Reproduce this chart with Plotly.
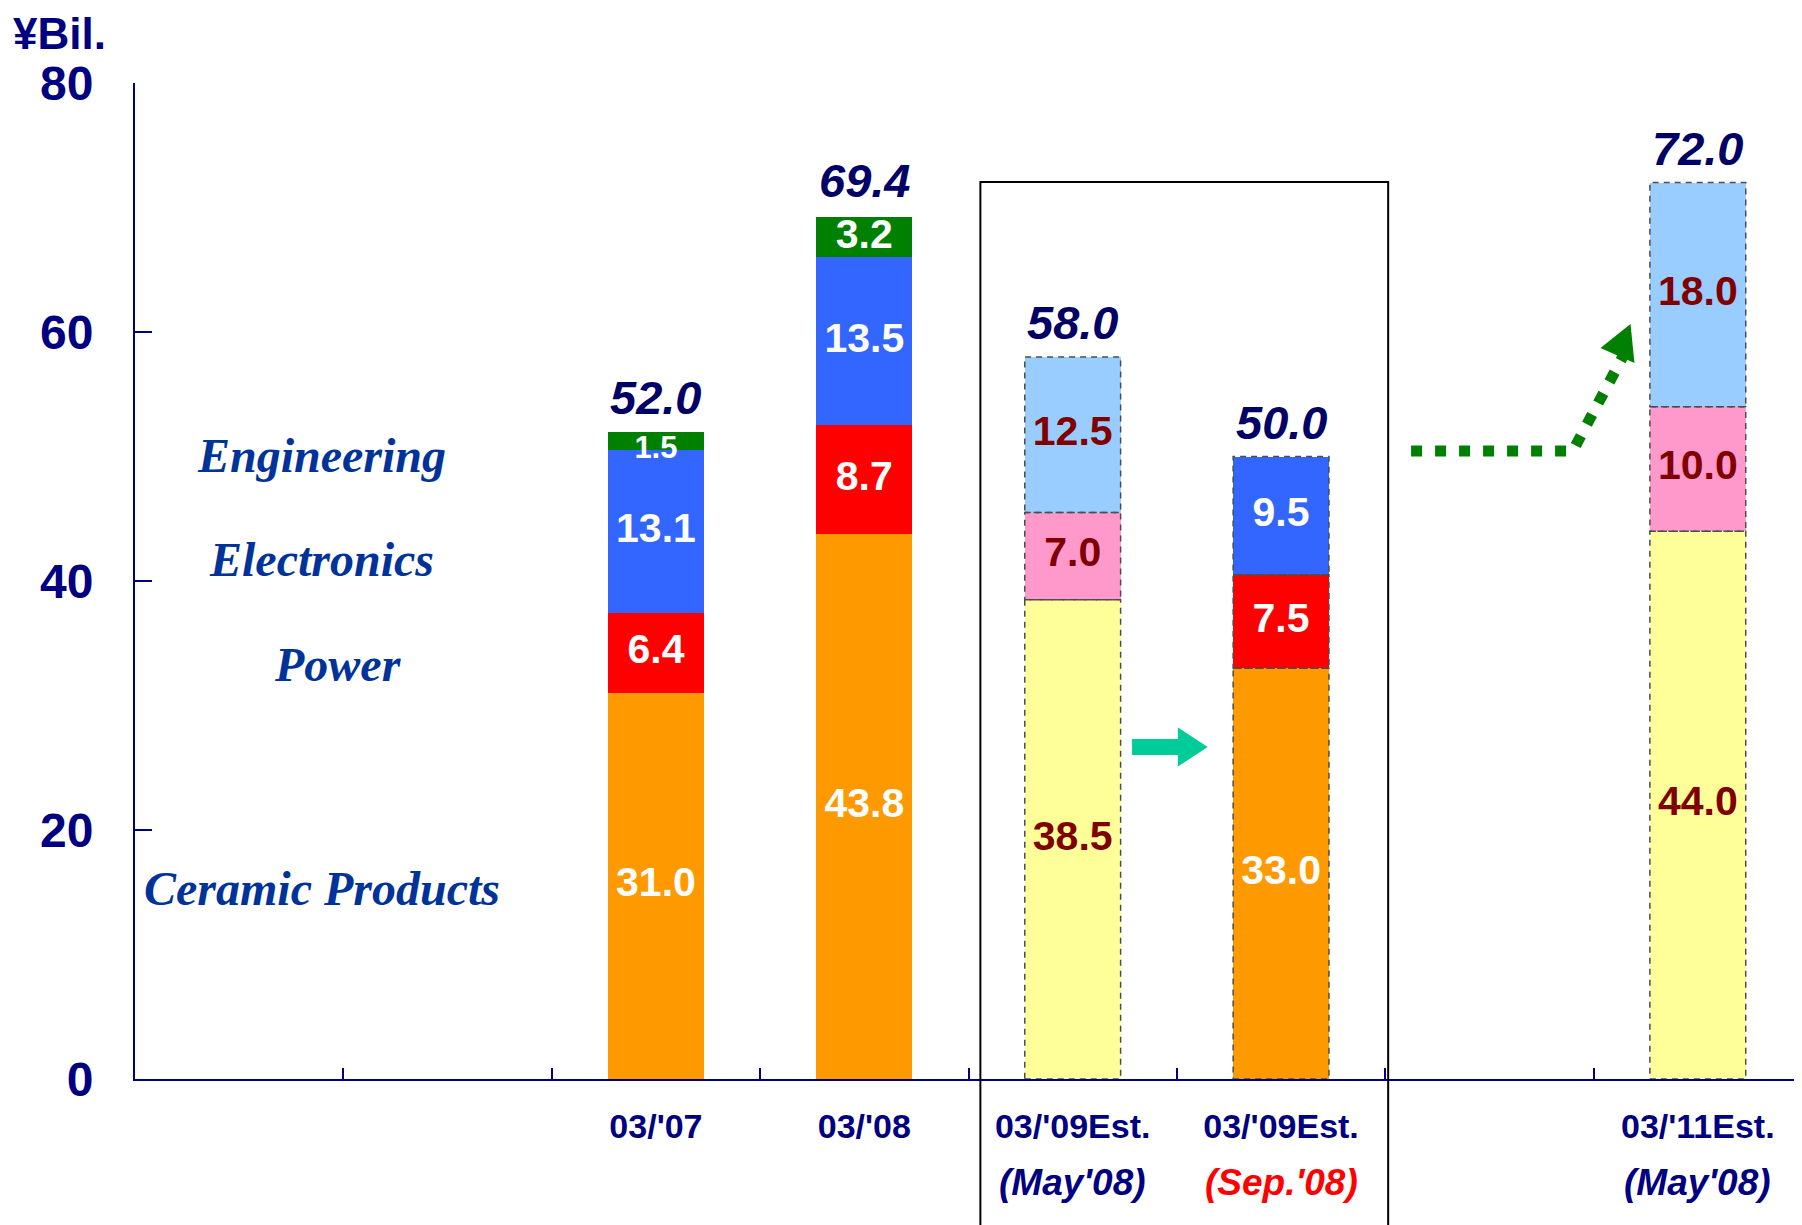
import plotly.graph_objects as go

# categories on the x axis (empty slots keep the original spacing)
cat_keys = ["e0", "e1", "FY07", "FY08", "FY09May", "FY09Sep", "e2", "FY11"]
tick_labels = ["", "", "03/'07", "03/'08", "03/'09Est.", "03/'09Est.", "", "03/'11Est."]

bar_keys = ["FY07", "FY08", "FY09May", "FY09Sep", "FY11"]
est_dates = {"FY09May": "(May'08)", "FY09Sep": "(Sep.'08)", "FY11": "(May'08)"}
est_date_colors = {"FY09May": "#000080", "FY09Sep": "#FF0000", "FY11": "#000080"}

ceramic = [31.0, 43.8, 38.5, 33.0, 44.0]
power = [6.4, 8.7, 7.0, 7.5, 10.0]
electronics = [13.1, 13.5, 12.5, 9.5, 18.0]
engineering = [1.5, 3.2, None, None, None]
totals = [52.0, 69.4, 58.0, 50.0, 72.0]

pale = [False, False, True, False, True]
estimate = [False, False, True, True, True]
segment_names = ["Engineering", "Electronics", "Power", "Ceramic Products"]

NAVY = "#000080"
solid_colors = {"ceramic": "#FF9900", "power": "#FF0000", "electronics": "#3366FF", "engineering": "#008000"}
pale_colors = {"ceramic": "#FFFF99", "power": "#FF99CC", "electronics": "#99CCFF", "engineering": "#99CC99"}

segments = [("ceramic", ceramic), ("power", power), ("electronics", electronics), ("engineering", engineering)]
BAR_W = 0.46

fig = go.Figure()

base = [0.0] * len(bar_keys)
shapes = []
for name, vals in segments:
    colors = [pale_colors[name] if p else solid_colors[name] for p in pale]
    fig.add_trace(go.Bar(
        x=bar_keys, y=vals, width=BAR_W,
        marker=dict(color=colors, line=dict(width=0)),
        showlegend=False, hoverinfo="skip",
    ))
    mids, txt, tcol, tsize, xs = [], [], [], [], []
    for i, v in enumerate(vals):
        if v is None:
            continue
        # thin segments: smaller label hanging from the segment's lower edge
        if v < 2:
            mids.append(base[i])
            tsize.append(31)
        else:
            mids.append(base[i] + v / 2)
            tsize.append(41)
        txt.append(f"{v:.1f}")
        tcol.append("#800000" if pale[i] else "white")
        xs.append(bar_keys[i])
        if estimate[i]:
            idx = cat_keys.index(bar_keys[i])
            shapes.append(dict(
                type="rect", xref="x", yref="y",
                x0=idx - BAR_W / 2, x1=idx + BAR_W / 2, y0=base[i], y1=base[i] + v,
                line=dict(color="#4D4D4D", width=1.5, dash="6px,5px"),
                fillcolor="rgba(0,0,0,0)", layer="above",
            ))
        base[i] += v
    fig.add_trace(go.Scatter(
        x=xs, y=mids, mode="text", text=txt,
        textfont=dict(family="Liberation Sans, Arial", size=tsize, color=tcol, weight="bold"),
        showlegend=False, hoverinfo="skip",
    ))

# box around the 03/'09 estimates
shapes.append(dict(type="rect", xref="x", yref="paper", x0=3.557, x1=5.514, y0=-0.4, y1=0.9006,
                   line=dict(color="black", width=2), fillcolor="rgba(0,0,0,0)", layer="above"))

# teal block arrow
shapes.append(dict(type="path", xref="x", yref="y",
                   path="M 4.285,27.31 L 4.505,27.31 L 4.505,28.23 L 4.648,26.67 L 4.505,25.10 L 4.505,26.02 L 4.285,26.02 Z",
                   fillcolor="#00CC99", line=dict(width=0), layer="above"))

# green dotted arrow
shapes.append(dict(type="path", xref="x", yref="y",
                   path="M 5.624,50.44 L 6.40,50.44 L 6.639,57.99",
                   line=dict(color="#008000", width=11, dash="11px,13px"), layer="above"))
shapes.append(dict(type="path", xref="x", yref="y",
                   path="M 6.677,60.64 L 6.533,58.71 L 6.696,57.51 Z",
                   fillcolor="#008000", line=dict(width=0), layer="above"))

annotations = []
# totals above the bars
for k, t in zip(bar_keys, totals):
    annotations.append(dict(x=k, y=t, xref="x", yref="y", text=f"{t:.1f}", showarrow=False,
                            yanchor="bottom", yshift=6,
                            font=dict(family="Liberation Sans, Arial", size=47, color="#000066",
                                      weight="bold", style="italic")))

# segment names on the left
name_pos = [(0.395, 50.1), (0.395, 41.7), (0.476, 33.3), (0.395, 15.3)]
for nm, (px, py) in zip(segment_names, name_pos):
    annotations.append(dict(x=px, y=py, xref="x", yref="y", text=nm, showarrow=False,
                            font=dict(family="Liberation Serif, Times New Roman", size=48, color="#003399",
                                      weight="bold", style="italic")))

# second line of the category labels
for k, d in est_dates.items():
    annotations.append(dict(x=cat_keys.index(k), y=-0.104, xref="x", yref="paper", text=d, showarrow=False,
                            yanchor="middle",
                            font=dict(family="Liberation Sans Narrow, Arial Narrow, Liberation Sans", size=37,
                                      color=est_date_colors[k], weight="bold", style="italic")))

annotations.append(dict(x=-0.074, y=1.0753, xref="paper", yref="paper", text="¥Bil.", showarrow=False,
                        xanchor="left", yanchor="top", borderpad=0,
                        font=dict(family="Liberation Sans, Arial", size=44, color=NAVY, weight="bold")))

fig.update_layout(
    width=1794, height=1217,
    barmode="stack",
    plot_bgcolor="white", paper_bgcolor="white",
    margin=dict(l=127, r=0, t=75, b=146),
    shapes=shapes, annotations=annotations,
    xaxis=dict(
        type="category", categoryorder="array", categoryarray=cat_keys,
        tickmode="array", tickvals=cat_keys, ticktext=tick_labels,
        tickson="boundaries", ticks="inside", ticklen=11, tickwidth=2, tickcolor=NAVY,
        showline=True, linecolor=NAVY, linewidth=2, showgrid=False, zeroline=False,
        range=[-0.5, 7.5], ticklabelstandoff=16,
        tickfont=dict(family="Liberation Sans Narrow, Arial Narrow, Liberation Sans", size=34,
                      color=NAVY, weight="bold"),
    ),
    yaxis=dict(
        range=[0, 80], tickvals=[0, 20, 40, 60, 80],
        ticks="inside", ticklen=17, tickwidth=2, tickcolor=NAVY,
        showline=True, linecolor=NAVY, linewidth=2, showgrid=False, zeroline=False,
        ticklabelstandoff=30,
        tickfont=dict(family="Liberation Sans, Arial", size=48, color=NAVY, weight="bold"),
    ),
)

fig.write_html("out.html")
